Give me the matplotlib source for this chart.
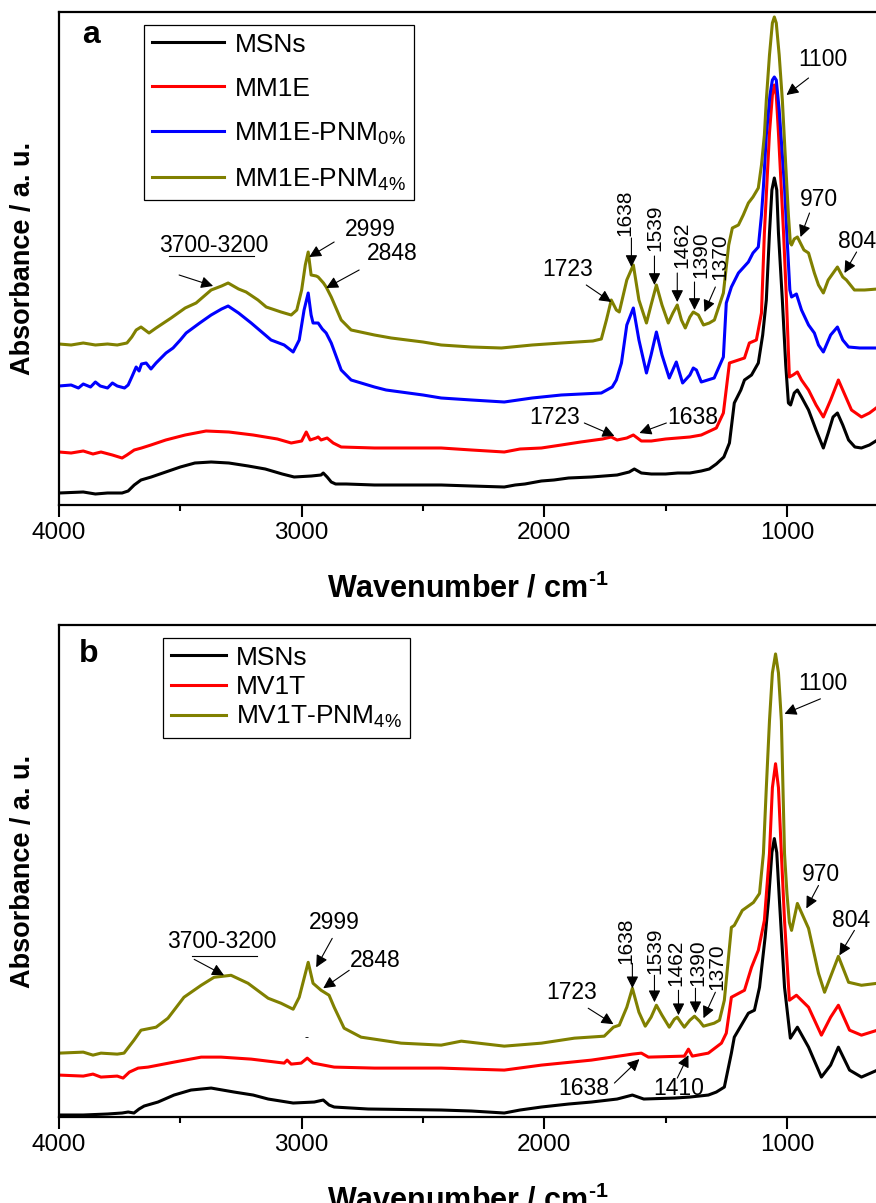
import matplotlib
matplotlib.use("Agg")
import matplotlib.pyplot as plt

plt.rcParams['font.family'] = ['Liberation Sans', 'DejaVu Sans']
plt.rcParams['mathtext.fontset'] = 'custom'
plt.rcParams['mathtext.rm'] = 'Liberation Sans'
plt.rcParams['mathtext.bf'] = 'Liberation Sans:bold'
plt.rcParams['mathtext.it'] = 'Liberation Sans:italic'

# (wavenumber / cm-1, absorbance a.u.)
# ---- panel a ----
msn_a = [(4000, 12), (3900, 13), (3850, 11), (3800, 12), (3740, 12), (3715, 14), (3690, 20), (3662, 25),
         (3620, 28), (3560, 33), (3500, 38), (3440, 42), (3373, 43), (3300, 42), (3220, 39), (3150, 36),
         (3080, 31), (3031, 28), (2960, 29), (2920, 30), (2911, 32), (2895, 28), (2878, 23), (2860, 21),
         (2816, 21), (2700, 20), (2600, 20), (2425, 20), (2300, 19), (2165, 18), (2120, 20), (2080, 21),
         (2012, 24), (1960, 25), (1900, 27), (1806, 28), (1700, 30), (1650, 33), (1629, 36), (1600, 32),
         (1559, 31), (1500, 31), (1450, 32), (1400, 32), (1353, 34), (1320, 36), (1291, 41), (1260, 48),
         (1237, 62), (1217, 102), (1190, 115), (1175, 125), (1146, 130), (1118, 142), (1100, 170),
         (1085, 205), (1072, 272), (1062, 315), (1052, 327), (1042, 315), (1035, 272), (1019, 205),
         (1005, 140), (994, 102), (985, 100), (970, 112), (957, 115), (940, 108), (911, 95), (880, 75),
         (850, 57), (830, 72), (810, 88), (792, 92), (770, 80), (746, 65), (720, 58), (693, 57), (660, 60),
         (627, 65)]

mm1e_a = [(4000, 53), (3950, 52), (3900, 54), (3860, 51), (3827, 53), (3780, 50), (3740, 47), (3720, 50),
          (3690, 55), (3660, 57), (3621, 60), (3560, 65), (3480, 70), (3394, 74), (3300, 73), (3200, 70),
          (3100, 66), (3043, 62), (3000, 64), (2981, 73), (2965, 65), (2940, 67), (2932, 68), (2920, 65),
          (2895, 67), (2870, 62), (2837, 58), (2700, 57), (2500, 57), (2425, 57), (2300, 55), (2165, 53),
          (2100, 56), (2012, 57), (1930, 60), (1850, 63), (1760, 66), (1724, 68), (1700, 65), (1660, 67),
          (1633, 70), (1600, 64), (1559, 64), (1500, 66), (1400, 68), (1353, 70), (1291, 77), (1262, 92),
          (1237, 142), (1200, 145), (1175, 147), (1155, 162), (1126, 165), (1105, 192), (1093, 272),
          (1072, 372), (1060, 410), (1052, 420), (1044, 410), (1035, 372), (1014, 272), (1002, 205),
          (990, 128), (975, 130), (957, 133), (940, 125), (911, 115), (880, 100), (850, 88), (820, 105),
          (788, 125), (770, 115), (734, 95), (693, 88), (660, 92), (627, 98)]

pnm0_a = [(4000, 119), (3950, 120), (3920, 117), (3900, 121), (3870, 118), (3850, 123), (3830, 119),
          (3800, 117), (3780, 122), (3760, 119), (3730, 117), (3715, 120), (3700, 128), (3682, 138),
          (3670, 134), (3660, 141), (3641, 142), (3621, 136), (3600, 142), (3559, 152), (3530, 157),
          (3500, 165), (3476, 172), (3420, 182), (3373, 190), (3330, 196), (3303, 199), (3260, 192),
          (3208, 182), (3150, 170), (3126, 165), (3072, 160), (3035, 153), (3010, 165), (2990, 195),
          (2973, 212), (2961, 190), (2953, 182), (2932, 182), (2915, 176), (2899, 172), (2878, 162),
          (2837, 135), (2796, 125), (2700, 118), (2652, 115), (2500, 110), (2425, 107), (2300, 105),
          (2165, 103), (2050, 107), (1930, 110), (1765, 112), (1720, 118), (1703, 125), (1682, 142),
          (1660, 180), (1633, 197), (1610, 165), (1579, 132), (1560, 150), (1538, 173), (1515, 150),
          (1485, 127), (1456, 143), (1430, 122), (1400, 130), (1386, 137), (1373, 135), (1353, 123),
          (1300, 127), (1262, 148), (1250, 202), (1229, 218), (1200, 232), (1159, 243), (1140, 252),
          (1118, 258), (1105, 290), (1097, 318), (1085, 370), (1070, 410), (1060, 425), (1052, 428),
          (1044, 425), (1032, 395), (1019, 350), (1010, 318), (998, 260), (988, 215), (981, 208),
          (961, 211), (940, 195), (911, 180), (887, 172), (870, 160), (850, 153), (820, 170), (792, 178),
          (770, 165), (746, 158), (700, 157), (627, 157)]

pnm4_a = [(4000, 161), (3950, 160), (3900, 162), (3850, 160), (3800, 161), (3760, 160), (3720, 162),
          (3700, 168), (3682, 175), (3662, 178), (3640, 174), (3629, 172), (3600, 177), (3538, 187),
          (3480, 197), (3435, 202), (3373, 215), (3330, 219), (3303, 222), (3260, 216), (3229, 213),
          (3180, 205), (3146, 198), (3085, 193), (3043, 190), (3020, 195), (3000, 215), (2985, 240),
          (2973, 253), (2961, 230), (2940, 229), (2932, 228), (2910, 222), (2899, 218), (2878, 208),
          (2837, 185), (2796, 175), (2700, 170), (2631, 167), (2500, 163), (2425, 160), (2300, 158),
          (2177, 157), (2050, 160), (1930, 162), (1800, 164), (1765, 166), (1744, 185), (1724, 205),
          (1703, 195), (1691, 193), (1660, 225), (1633, 240), (1610, 205), (1579, 182), (1560, 200),
          (1538, 220), (1515, 200), (1489, 182), (1470, 192), (1452, 200), (1435, 185), (1419, 177),
          (1400, 188), (1386, 193), (1365, 190), (1344, 180), (1320, 182), (1299, 185), (1262, 212),
          (1240, 260), (1225, 277), (1200, 280), (1180, 290), (1159, 302), (1140, 308), (1118, 317),
          (1105, 340), (1093, 370), (1085, 405), (1072, 450), (1060, 482), (1052, 488), (1044, 482),
          (1032, 450), (1019, 405), (1005, 340), (994, 290), (986, 262), (981, 260), (970, 266),
          (957, 268), (930, 255), (911, 252), (887, 232), (870, 220), (850, 212), (830, 225), (792, 238),
          (770, 228), (755, 225), (722, 215), (680, 215), (627, 216)]

# ---- panel b ----
msn_b = [(4000, 2), (3900, 2), (3800, 3), (3740, 4), (3715, 5), (3691, 4), (3670, 8), (3649, 11),
         (3592, 15), (3526, 22), (3456, 27), (3373, 29), (3278, 25), (3200, 22), (3138, 18), (3035, 14),
         (2948, 15), (2911, 17), (2887, 12), (2866, 10), (2726, 8), (2425, 7), (2300, 6), (2165, 4),
         (2100, 7), (2012, 10), (1900, 13), (1806, 15), (1700, 18), (1637, 22), (1590, 18), (1464, 19),
         (1400, 20), (1324, 22), (1291, 25), (1258, 30), (1229, 64), (1217, 80), (1159, 104),
         (1134, 107), (1113, 130), (1090, 180), (1076, 217), (1062, 265), (1052, 279), (1042, 265),
         (1031, 217), (1010, 130), (986, 79), (957, 90), (911, 70), (858, 40), (820, 52), (788, 70),
         (742, 47), (693, 40), (627, 47)]

mv1t_b = [(4000, 42), (3900, 41), (3860, 43), (3827, 40), (3760, 41), (3736, 39), (3710, 45), (3674, 49),
          (3633, 50), (3526, 55), (3414, 60), (3332, 60), (3208, 58), (3072, 54), (3060, 57), (3043, 53),
          (3002, 54), (2977, 59), (2953, 54), (2866, 50), (2700, 49), (2425, 49), (2300, 48), (2165, 47),
          (2012, 52), (1806, 57), (1637, 63), (1600, 64), (1571, 60), (1423, 61), (1406, 68), (1390, 61),
          (1324, 64), (1270, 74), (1250, 84), (1229, 120), (1175, 127), (1146, 150), (1118, 167),
          (1093, 197), (1072, 264), (1060, 330), (1047, 354), (1035, 330), (1023, 264), (1010, 197),
          (990, 117), (961, 122), (911, 110), (858, 82), (820, 100), (788, 112), (742, 87), (693, 82),
          (627, 87)]

pnm4_b = [(4000, 64), (3900, 65), (3860, 62), (3827, 64), (3760, 63), (3732, 64), (3691, 77), (3662, 87),
          (3600, 90), (3551, 99), (3485, 120), (3414, 132), (3361, 140), (3291, 142), (3221, 134),
          (3138, 119), (3085, 114), (3035, 108), (3010, 120), (2973, 155), (2953, 134), (2920, 127),
          (2887, 122), (2866, 110), (2825, 89), (2755, 80), (2590, 74), (2425, 72), (2342, 76), (2165, 71),
          (2012, 74), (1876, 79), (1753, 81), (1715, 90), (1691, 92), (1660, 110), (1637, 129),
          (1610, 105), (1584, 91), (1560, 100), (1538, 112), (1515, 102), (1485, 90), (1464, 98),
          (1452, 100), (1435, 94), (1423, 90), (1400, 97), (1381, 101), (1360, 96), (1344, 91),
          (1300, 94), (1278, 97), (1258, 117), (1229, 190), (1217, 192), (1184, 207), (1138, 215),
          (1113, 224), (1097, 264), (1085, 330), (1072, 397), (1060, 445), (1047, 464), (1035, 445),
          (1023, 397), (1010, 264), (1000, 224), (990, 195), (981, 187), (957, 214), (911, 189),
          (870, 144), (845, 125), (788, 161), (746, 135), (693, 132), (627, 134)]

BLACK, RED, BLUE, OLIVE = 'black', '#ff0000', '#0000ff', '#808000'


def arrow(ax, text, txy, tail, tip, rot=0, size=16.5):
    ax.text(txy[0], txy[1], text, rotation=rot, ha='center', va='center', fontsize=size)
    ax.annotate('', xy=tip, xytext=tail,
                arrowprops=dict(arrowstyle='-|>', color='black', lw=0.8,
                                mutation_scale=18, shrinkA=0, shrinkB=0))


def style(ax):
    ax.set_xlim(4000, 633)
    ax.set_ylim(0, 493)
    ax.set_yticks([])
    ax.set_xticks([4000, 3000, 2000, 1000])
    ax.set_xticks([3500, 2500, 1500], minor=True)
    ax.tick_params(axis='x', which='major', direction='out', length=8.5, width=1.5, pad=4, labelsize=17.5)
    ax.tick_params(axis='x', which='minor', direction='out', length=4.5, width=1.5)
    for s in ['left', 'bottom', 'top']:
        ax.spines[s].set_linewidth(1.6)
    ax.spines['right'].set_visible(False)
    ax.set_xlabel('Wavenumber / cm$^{\\mathbf{\u2010 1}}$', fontsize=22, fontweight='bold')
    ax.xaxis.set_label_coords(0.5, -0.138)
    ax.set_ylabel('Absorbance / a. u.', fontsize=19.5, fontweight='bold')
    ax.yaxis.set_label_coords(-0.028, 0.5)


fig = plt.figure(figsize=(8.76, 12.03), dpi=100)
ax_a = fig.add_axes([59 / 876, 698 / 1203, 817 / 876, 493 / 1203])
ax_b = fig.add_axes([59 / 876, 86 / 1203, 817 / 876, 492 / 1203])

lw = 2.2
for data, col, lab in [(msn_a, BLACK, 'MSNs'), (mm1e_a, RED, 'MM1E'),
                       (pnm0_a, BLUE, r'MM1E-PNM$_{0\%}$'), (pnm4_a, OLIVE, r'MM1E-PNM$_{4\%}$')]:
    x, y = zip(*data)
    ax_a.plot(x, y, color=col, lw=lw, label=lab, solid_joinstyle='round')

for data, col, lab in [(msn_b, BLACK, 'MSNs'), (mv1t_b, RED, 'MV1T'), (pnm4_b, OLIVE, r'MV1T-PNM$_{4\%}$')]:
    x, y = zip(*data)
    ax_b.plot(x, y, color=col, lw=lw, label=lab, solid_joinstyle='round')

style(ax_a)
style(ax_b)

leg_a = ax_a.legend(loc='upper left', bbox_to_anchor=(0.104, 0.974), borderaxespad=0, fontsize=19,
                    frameon=True, fancybox=False, edgecolor='black', framealpha=1, handlelength=2.75,
                    handletextpad=0.38, labelspacing=0.75, borderpad=0.3)
leg_a.get_frame().set_linewidth(0.9)
leg_b = ax_b.legend(loc='upper left', bbox_to_anchor=(0.127, 0.974), borderaxespad=0, fontsize=19,
                    frameon=True, fancybox=False, edgecolor='black', framealpha=1, handlelength=2.1,
                    handletextpad=0.38, labelspacing=0.2, borderpad=0.3)
leg_b.get_frame().set_linewidth(0.9)

ax_a.text(3868, 470, 'a', fontsize=23, fontweight='bold', ha='center', va='center')
ax_b.text(3876, 464, 'b', fontsize=23, fontweight='bold', ha='center', va='center')

# panel a peak labels
arrow(ax_a, '1100', (850, 445), (911, 427), (1002, 410))
arrow(ax_a, '970', (870, 306), (907, 292), (944, 268))
arrow(ax_a, '804', (713, 264), (713, 253), (763, 232))
arrow(ax_a, '1723', (1905, 235), (1827, 220), (1724, 203))
arrow(ax_a, '1638', (1666, 292), (1641, 267), (1641, 238), rot=90, size=15)
arrow(ax_a, '1539', (1546, 277), (1546, 249), (1546, 220), rot=90, size=15)
arrow(ax_a, '1462', (1435, 260), (1452, 232), (1452, 203), rot=90, size=15)
arrow(ax_a, '1390', (1353, 250), (1381, 223), (1381, 195), rot=90, size=15)
arrow(ax_a, '1370', (1278, 248), (1295, 218), (1340, 193), rot=90, size=15)
arrow(ax_a, '2999', (2718, 276), (2866, 263), (2969, 248))
arrow(ax_a, '2848', (2627, 251), (2763, 235), (2899, 217))
arrow(ax_a, '3700-3200', (3361, 260), (3505, 230), (3365, 219))
ax_a.plot([3546, 3196], [249, 249], color='black', lw=0.8)
arrow(ax_a, '1723', (1959, 87), (1835, 82), (1711, 69))
arrow(ax_a, '1638', (1390, 87), (1497, 82), (1608, 72))

# panel b peak labels
arrow(ax_b, '1100', (850, 434), (862, 419), (1010, 404))
arrow(ax_b, '970', (858, 243), (870, 232), (920, 209))
arrow(ax_b, '804', (734, 197), (722, 187), (784, 162))
arrow(ax_b, '1723', (1889, 125), (1819, 109), (1715, 93))
arrow(ax_b, '1638', (1662, 177), (1637, 154), (1637, 129), rot=90, size=15)
arrow(ax_b, '1539', (1546, 167), (1546, 142), (1546, 115), rot=90, size=15)
arrow(ax_b, '1462', (1456, 154), (1447, 127), (1447, 102), rot=90, size=15)
arrow(ax_b, '1390', (1369, 155), (1377, 129), (1377, 104), rot=90, size=15)
arrow(ax_b, '1370', (1287, 151), (1295, 125), (1344, 99), rot=90, size=15)
arrow(ax_b, '2999', (2866, 195), (2874, 179), (2940, 150))
arrow(ax_b, '2848', (2697, 157), (2804, 147), (2911, 129))
arrow(ax_b, '3700-3200', (3328, 176), (3443, 158), (3320, 142))
ax_b.plot([3452, 3184], [161, 161], color='black', lw=0.8)
arrow(ax_b, '1638', (1839, 29), (1711, 34), (1608, 58))
arrow(ax_b, '1410', (1447, 29), (1452, 39), (1406, 62))
ax_b.text(2981, 79, '-', fontsize=9, ha='center', va='center')

fig.savefig('out.png', dpi=100)
